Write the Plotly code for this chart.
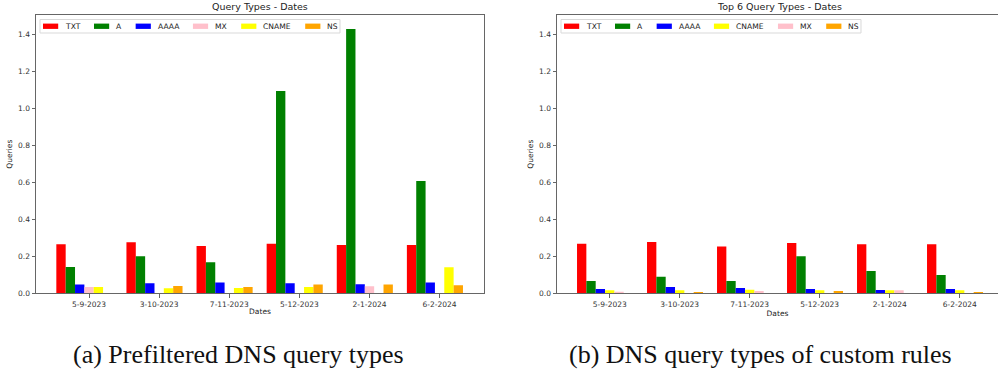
import plotly.graph_objects as go

dates = ["5-9-2023", "3-10-2023", "7-11-2023", "5-12-2023", "2-1-2024", "6-2-2024"]

# Left chart: prefiltered query types
left_types = ["TXT", "A", "AAAA", "MX", "CNAME", "NS"]
left_txt = [0.265, 0.276, 0.256, 0.268, 0.261, 0.261]
left_a = [0.142, 0.200, 0.168, 1.092, 1.427, 0.607]
left_aaaa = [0.047, 0.054, 0.058, 0.054, 0.049, 0.058]
left_mx = [0.034, 0.0, 0.0, 0.0, 0.038, 0.0]
left_cname = [0.034, 0.027, 0.029, 0.034, 0.0, 0.141]
left_ns = [0.0, 0.040, 0.034, 0.047, 0.047, 0.043]

# Right chart: top 6 query types of custom rules
right_types = ["TXT", "A", "AAAA", "CNAME", "MX", "NS"]
right_txt = [0.267, 0.277, 0.253, 0.271, 0.265, 0.265]
right_a = [0.066, 0.090, 0.066, 0.200, 0.120, 0.099]
right_aaaa = [0.023, 0.034, 0.028, 0.023, 0.018, 0.023]
right_cname = [0.016, 0.016, 0.019, 0.016, 0.016, 0.016]
right_mx = [0.009, 0.0, 0.012, 0.0, 0.016, 0.0]
right_ns = [0.0, 0.007, 0.0, 0.012, 0.0, 0.007]

colors = {"TXT": "red", "A": "green", "AAAA": "blue", "MX": "pink",
          "CNAME": "yellow", "NS": "orange"}

W, H = 998, 372
BW = 0.1333  # bar width in category units
idx = list(range(len(dates)))
tickpos = [i + BW / 2 for i in idx]

fig = go.Figure()

left_vals = [left_txt, left_a, left_aaaa, left_mx, left_cname, left_ns]
right_vals = [right_txt, right_a, right_aaaa, right_cname, right_mx, right_ns]

for name, vals in zip(left_types, left_vals):
    fig.add_trace(go.Bar(x=idx, y=vals, name=name, marker_color=colors[name],
                         marker_line_width=0, xaxis="x", yaxis="y",
                         offsetgroup=name + "l", showlegend=False))
for name, vals in zip(right_types, right_vals):
    fig.add_trace(go.Bar(x=idx, y=vals, name=name, marker_color=colors[name],
                         marker_line_width=0, xaxis="x2", yaxis="y2",
                         offsetgroup=name + "r", showlegend=False))

def px_x(p):
    return p / W

def px_y(p):
    return 1 - p / H

ybot, ytop = px_y(293.3), px_y(15)
tickfont = dict(family="DejaVu Sans", size=7.5, color="#333")
titlefont = dict(family="DejaVu Sans", size=7.5, color="#222")
axcommon = dict(showline=True, linecolor="#666", linewidth=1, ticks="outside",
                ticklen=3.5, tickcolor="#666", tickfont=tickfont, showgrid=False,
                zeroline=False, automargin=False)
yticks = [0, 0.2, 0.4, 0.6, 0.8, 1.0, 1.2, 1.4]
yticktext = ["0.0", "0.2", "0.4", "0.6", "0.8", "1.0", "1.2", "1.4"]

fig.update_layout(
    width=W, height=H, margin=dict(l=0, r=0, t=0, b=0),
    paper_bgcolor="white", plot_bgcolor="white",
    barmode="group", bargap=0.2, bargroupgap=0,
    showlegend=False,
    xaxis=dict(domain=[px_x(36), px_x(484)], range=[-0.69, 5.70], tickvals=tickpos,
               ticktext=dates, mirror=True, anchor="y",
               title=dict(text="Dates", font=titlefont, standoff=0), **axcommon),
    yaxis=dict(domain=[ybot, ytop], range=[0, 1.503], tickvals=yticks, ticktext=yticktext,
               mirror=True, anchor="x",
               title=dict(text="Queries", font=titlefont, standoff=4), **axcommon),
    xaxis2=dict(domain=[px_x(557), 1.0], range=[-0.686, 5.614], tickvals=tickpos,
                ticktext=dates, mirror=True, anchor="y2",
                title=dict(text="Dates", font=titlefont, standoff=0), **axcommon),
    yaxis2=dict(domain=[ybot, ytop], range=[0, 1.503], tickvals=yticks, ticktext=yticktext,
                mirror=False, anchor="x2",
                title=dict(text="Queries", font=titlefont, standoff=4), **axcommon),
)

# Matplotlib-style legends (upper left, single row), built from the type lists
LF = 7.6  # legend font size (px)
CW = {"T": 0.611, "X": 0.685, "A": 0.684, "M": 0.863, "C": 0.698, "N": 0.748,
      "E": 0.632, "S": 0.635}

def text_w(s):
    return sum(CW.get(c, 0.6) for c in s) * LF

def add_legend(types, ax_left):
    box_x0 = ax_left + 4
    x = box_x0 + 3
    ytop_l, ybot_l = 19.5, 33
    yc = (ytop_l + ybot_l) / 2
    items = []
    for t in types:
        items.append((t, x))
        x += 2.0 * LF + 0.8 * LF + text_w(t) + 2.0 * LF
    box_x1 = x - 2.0 * LF + 3
    fig.add_shape(type="rect", xref="paper", yref="paper",
                  x0=px_x(box_x0), x1=px_x(box_x1), y0=px_y(ybot_l), y1=px_y(ytop_l),
                  fillcolor="rgba(255,255,255,0.8)", line=dict(color="#d9d9d9", width=1),
                  layer="above")
    for t, x0 in items:
        fig.add_shape(type="rect", xref="paper", yref="paper",
                      x0=px_x(x0), x1=px_x(x0 + 2.0 * LF),
                      y0=px_y(yc + 0.35 * LF), y1=px_y(yc - 0.35 * LF),
                      fillcolor=colors[t], line=dict(width=0), layer="above")
        fig.add_annotation(text=t, x=px_x(x0 + 2.8 * LF), y=px_y(yc), xref="paper", yref="paper",
                           showarrow=False, xanchor="left", yanchor="middle",
                           font=dict(family="DejaVu Sans", size=LF, color="#222"),
                           borderpad=0)

add_legend(left_types, 36)
add_legend(right_types, 557)

fig.add_annotation(text="Query Types - Dates", x=px_x(260), y=px_y(7), xref="paper", yref="paper",
                   showarrow=False, font=dict(family="DejaVu Sans", size=9.5, color="#222"),
                   xanchor="center", yanchor="middle")
fig.add_annotation(text="Top 6 Query Types - Dates", x=px_x(779), y=px_y(7), xref="paper", yref="paper",
                   showarrow=False, font=dict(family="DejaVu Sans", size=9.5, color="#222"),
                   xanchor="center", yanchor="middle")
fig.add_annotation(text="(a) Prefiltered DNS query types", x=px_x(238), y=px_y(354), xref="paper",
                   yref="paper", showarrow=False,
                   font=dict(family="Liberation Serif", size=26, color="#111"),
                   xanchor="center", yanchor="middle")
fig.add_annotation(text="(b) DNS query types of custom rules", x=px_x(760), y=px_y(354), xref="paper",
                   yref="paper", showarrow=False,
                   font=dict(family="Liberation Serif", size=26, color="#111"),
                   xanchor="center", yanchor="middle")

fig.write_html(
    "out.html",
    config={"displayModeBar": False},
    post_script="document.body.style.margin='0';document.body.style.overflow='hidden';",
)
